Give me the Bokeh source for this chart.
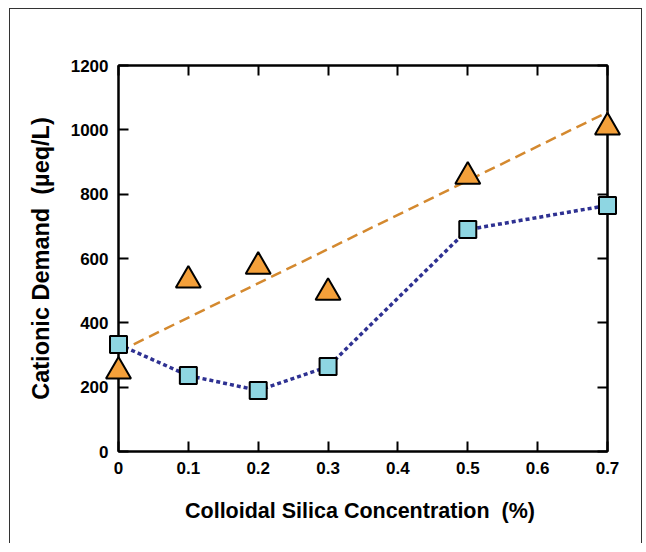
from bokeh.plotting import figure
from bokeh.models import LinearAxis, FixedTicker, Range1d
from bokeh.embed import file_html
from bokeh.resources import INLINE

# ---- data ----
conc = [0, 0.1, 0.2, 0.3, 0.5, 0.7]
demand_square = [333, 236, 190, 264, 690, 765]
demand_triangle = [249, 532, 575, 494, 855, 1008]
fit_x = [0, 0.7]
fit_y = [310, 1055]
x_ticks = [0, 0.1, 0.2, 0.3, 0.4, 0.5, 0.6, 0.7]
x_tick_labels = ["0", "0.1", "0.2", "0.3", "0.4", "0.5", "0.6", "0.7"]
y_ticks = [0, 200, 400, 600, 800, 1000, 1200]
y_tick_labels = ["0", "200", "400", "600", "800", "1000", "1200"]

FONT = "Liberation Sans"

p = figure(frame_width=489, frame_height=386,
           x_range=Range1d(0, 0.7), y_range=Range1d(0, 1200),
           output_backend="svg", toolbar_location=None,
           x_axis_location=None, y_axis_location=None,
           min_border_left=108, min_border_top=56, min_border_right=34,
           min_border_bottom=92)
p.styles = {"border-left": "1px solid #333", "border-top": "1px solid #333",
            "border-right": "1px solid #333",
            "margin-left": "9px", "margin-top": "8px"}
p.grid.visible = False
p.outline_line_color = "black"
p.outline_line_width = 2

def style_axis(ax, show_labels):
    ax.axis_line_width = 2
    ax.axis_line_color = "black"
    ax.major_tick_in = 10
    ax.major_tick_out = 0
    ax.major_tick_line_width = 2
    ax.major_tick_line_color = "black"
    ax.minor_tick_line_color = None
    ax.major_label_text_font = FONT
    ax.major_label_text_font_style = "bold"
    ax.major_label_text_font_size = "17px"
    ax.major_label_text_color = "black" if show_labels else None
    ax.axis_label_text_color = "black"

bottom = LinearAxis(ticker=FixedTicker(ticks=x_ticks),
                    major_label_overrides={t: l for t, l in zip(x_ticks, x_tick_labels)})
style_axis(bottom, True)
bottom.major_label_standoff = 10
bottom.axis_label = "Colloidal Silica Concentration\u00a0\u00a0(%)\u00a0"
bottom.axis_label_text_font = FONT
bottom.axis_label_text_font_style = "bold"
bottom.axis_label_text_font_size = "21.5px"
bottom.axis_label_standoff = 22
p.add_layout(bottom, "below")

left = LinearAxis(ticker=FixedTicker(ticks=y_ticks),
                  major_label_overrides={t: l for t, l in zip(y_ticks, y_tick_labels)})
style_axis(left, True)
left.major_label_standoff = 10
left.axis_label = "Cationic Demand\u00a0\u00a0(µeq/L)"
left.axis_label_text_font = FONT
left.axis_label_text_font_style = "bold"
left.axis_label_text_font_size = "23.5px"
left.axis_label_standoff = 14
p.add_layout(left, "left")

top = LinearAxis(ticker=FixedTicker(ticks=x_ticks),
                 major_label_overrides={t: "" for t in x_ticks})
style_axis(top, False)
top.major_label_standoff = 0
p.add_layout(top, "above")

right = LinearAxis(ticker=FixedTicker(ticks=y_ticks),
                   major_label_overrides={t: "" for t in y_ticks})
style_axis(right, False)
right.major_label_standoff = 0
p.add_layout(right, "right")

p.line(fit_x, fit_y, line_color="#D4892F", line_width=2.5, line_dash="11 6", level="overlay")
p.line(conc, demand_square, line_color="#2E3192", line_width=3.5, line_dash="4 3", level="overlay")
p.scatter(conc, demand_triangle, marker="triangle", size=25, fill_color="#F4A03A",
          line_color="black", line_width=2, level="overlay")
p.scatter(conc, demand_square, marker="square", size=17, fill_color="#8ED6E2",
          line_color="black", line_width=2, level="overlay")

open("out.html", "w").write(file_html(p, INLINE))
